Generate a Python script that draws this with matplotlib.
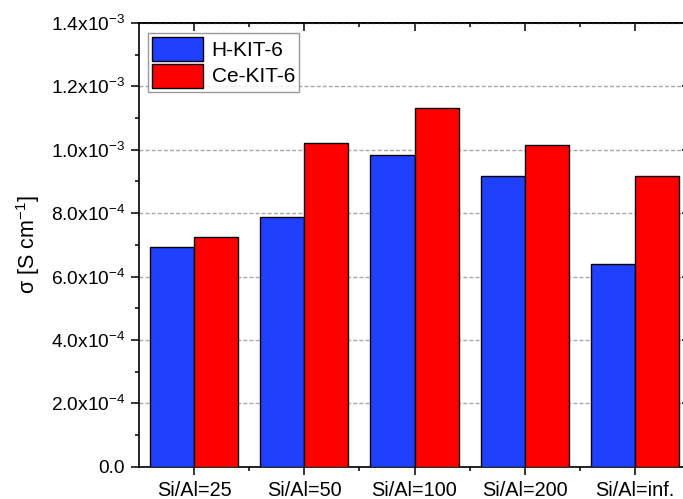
import numpy as np
import matplotlib
matplotlib.use("Agg")
import matplotlib.pyplot as plt
from matplotlib.ticker import MultipleLocator, FixedLocator

plt.rcParams['font.family'] = ['Liberation Sans', 'DejaVu Sans']
plt.rcParams['mathtext.fontset'] = 'custom'
plt.rcParams['mathtext.rm'] = 'Liberation Sans'
plt.rcParams['mathtext.it'] = 'Liberation Sans:italic'

# conductivity values per Si/Al ratio
categories = ['Si/Al=25', 'Si/Al=50', 'Si/Al=100', 'Si/Al=200', 'Si/Al=inf.']
h_kit6 = [6.93e-4, 7.87e-4, 9.85e-4, 9.16e-4, 6.41e-4]
ce_kit6 = [7.24e-4, 1.020e-3, 1.132e-3, 1.016e-3, 9.16e-4]
yticks = [0, 2e-4, 4e-4, 6e-4, 8e-4, 1.0e-3, 1.2e-3, 1.4e-3]
yticklabels = ['0.0', r'$\mathregular{2.0x10^{-4}}$', r'$\mathregular{4.0x10^{-4}}$',
               r'$\mathregular{6.0x10^{-4}}$', r'$\mathregular{8.0x10^{-4}}$',
               r'$\mathregular{1.0x10^{-3}}$', r'$\mathregular{1.2x10^{-3}}$',
               r'$\mathregular{1.4x10^{-3}}$']

fig = plt.figure(figsize=(6.83, 4.99), dpi=100)
ax = fig.add_axes([139/683, 32.3/499, (690-139)/683, (466.7-23)/499])

x = np.arange(1, len(categories) + 1)
w = 0.4
ax.bar(x - w/2, h_kit6, w, color='#2040ff', edgecolor='black', linewidth=1.0,
       label='H-KIT-6', zorder=3)
ax.bar(x + w/2, ce_kit6, w, color='#ff0000', edgecolor='black', linewidth=1.0,
       label='Ce-KIT-6', zorder=3)

ax.set_xlim(0.5, 5.5)
ax.set_ylim(0, 1.4e-3)

ax.set_xticks(x, categories, fontsize=14.3)
ax.xaxis.set_minor_locator(FixedLocator(x[:-1] + 0.5))
ax.set_yticks(yticks, yticklabels, fontsize=13.8)
ax.yaxis.set_minor_locator(MultipleLocator(1e-4))

ax.tick_params(axis='both', which='major', length=5.5, width=1.1, pad=4.5)
ax.tick_params(axis='both', which='minor', length=2.7, width=1.1)
ax.tick_params(axis='both', which='both', direction='out', top=False, right=False)

# inward ticks on the top and right sides
top = ax.secondary_xaxis('top')
top.set_xticks(x)
top.xaxis.set_minor_locator(FixedLocator(x[:-1] + 0.5))
top.tick_params(which='major', direction='in', length=6, width=1.1, labeltop=False)
top.tick_params(which='minor', direction='in', length=2.7, width=1.1)
right = ax.secondary_yaxis('right')
right.set_yticks(yticks)
right.yaxis.set_minor_locator(MultipleLocator(1e-4))
right.tick_params(which='major', direction='in', length=5.5, width=1.1, labelright=False)
right.tick_params(which='minor', direction='in', length=2.7, width=1.1)

for s in list(ax.spines.values()) + list(top.spines.values()) + list(right.spines.values()):
    s.set_linewidth(1.2)

ax.yaxis.grid(True, color='#a8a8a8', linestyle=(0, (2.8, 1.6)), linewidth=1.0, zorder=0)
ax.set_axisbelow(True)

ax.set_ylabel(r'$\mathregular{\sigma\ [S\ cm^{-1}]}$', fontsize=15.5, labelpad=6)

leg = ax.legend(loc='upper left', bbox_to_anchor=(0.0165, 0.977), fontsize=15,
                frameon=True, fancybox=False, edgecolor='#808080',
                handlelength=2.45, handleheight=1.4, handletextpad=0.4,
                borderpad=0.2, borderaxespad=0, labelspacing=0.1)
leg.get_frame().set_linewidth(1.0)

fig.savefig('out.png', dpi=100)
